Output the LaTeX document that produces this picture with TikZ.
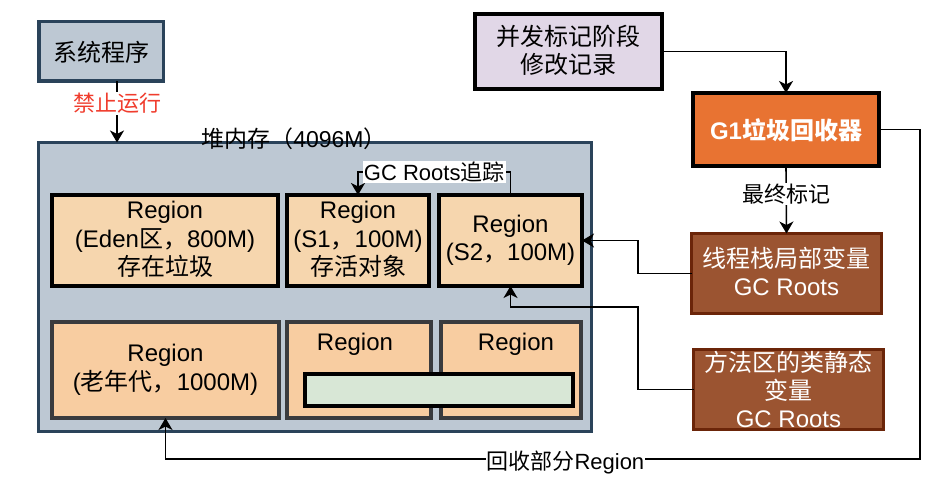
\documentclass[tikz,border=0pt]{standalone}
\usepackage{fontspec}
\setmainfont{Liberation Sans}
\newfontfamily\zhfont{Noto Sans CJK SC}
\newcommand{\zh}[1]{{\zhfont #1}}
\newcommand{\bxstrut}{\rule[-4pt]{0pt}{28.5pt}}
\usetikzlibrary{arrows.meta}
\definecolor{heapfill}{HTML}{BDC8D3}
\definecolor{heapdraw}{HTML}{2A435A}
\definecolor{regtop}{HTML}{F6D6AE}
\definecolor{regbot}{HTML}{F8CDA1}
\definecolor{regbotdraw}{HTML}{3A3B3E}
\definecolor{greenfill}{HTML}{D8E7D6}
\definecolor{purplefill}{HTML}{E1D7E7}
\definecolor{gonefill}{HTML}{E87332}
\definecolor{brownfill}{HTML}{9B5431}
\definecolor{browndraw}{HTML}{6B2509}
\definecolor{labelred}{HTML}{F03C2D}
\tikzset{
  boxbase/.style={rectangle, inner sep=0pt, outer sep=0pt, align=center,
    font=\fontsize{24}{28.5}\selectfont},
  strutted/.style={execute at begin node={\bxstrut}, execute at end node={\bxstrut}},
  sysbox/.style={boxbase, strutted, fill=heapfill, draw=heapdraw, line width=3.5pt},
  heapbox/.style={boxbase, fill=heapfill, draw=heapdraw, line width=3pt},
  regbox/.style={boxbase, strutted, fill=regtop, draw=black, line width=4pt},
  regboxb/.style={boxbase, strutted, fill=regbot, draw=regbotdraw, line width=4pt},
  greenbox/.style={boxbase, fill=greenfill, draw=black, line width=4pt},
  purplebox/.style={boxbase, strutted, fill=purplefill, draw=black, line width=4pt},
  gonebox/.style={boxbase, strutted, fill=gonefill, draw=black, line width=4pt, text=white, font=\fontsize{24}{28.5}\selectfont\bfseries},
  brownbox/.style={boxbase, fill=brownfill, draw=browndraw, line width=3pt, text=white},
  arr/.style={line width=1.6pt, -{Stealth[length=12pt,width=14pt,inset=3.5pt]}},
  lbl/.style={fill=white, inner sep=1pt, font=\fontsize{22}{26}\selectfont},
  plaintext/.style={inner sep=0pt, align=center, font=\fontsize{24}{28}\selectfont},
}
\begin{document}
\begin{tikzpicture}[x=1pt,y=-1pt]
\useasboundingbox (0,0) rectangle (942,484);

% left side
\node[sysbox, minimum width=124.5pt, minimum height=59.5pt] (sys) at (101,51.5) {\zh{系统程序}};
\node[heapbox, minimum width=553pt, minimum height=289pt] (heap) at (315,287) {};
\node[plaintext, font=\fontsize{23}{26}\selectfont] (heaplbl) at (294,139) {\zh{堆内存（}4096M\zh{）}};

\node[regbox, minimum width=226pt, minimum height=91pt] (eden) at (165,240.5) {Region\\(Eden\zh{区，}800M)\\\zh{存在垃圾}};
\node[regbox, minimum width=142pt, minimum height=91pt] (s1) at (358,240.5) {Region\\(S1\zh{，}100M)\\\zh{存活对象}};
\node[regbox, minimum width=143pt, minimum height=91pt] (s2) at (510.5,240.5) {Region\\(S2\zh{，}100M)};

\node[regboxb, minimum width=227pt, minimum height=96pt] (old) at (165.5,370) {Region\\(\zh{老年代，}1000M)};
\node[regboxb, minimum width=144pt, minimum height=96pt] (r2) at (359,370) {};
\node[regboxb, minimum width=140pt, minimum height=96pt] (r3) at (511,370) {};
\node[plaintext] (r2lbl) at (355,344) {Region};
\node[plaintext] (r3lbl) at (516,344) {Region};
\node[greenbox, minimum width=268pt, minimum height=32pt] (green) at (439,390) {};

% right side
\node[purplebox, minimum width=187pt, minimum height=75pt] (conc) at (568.5,51.5) {\zh{并发标记阶段}\\\zh{修改记录}};
\node[gonebox, minimum width=186pt, minimum height=73pt] (g1) at (786,129.5) {G1\zh{垃圾回收器}};
\node[brownbox, strutted, minimum width=190pt, minimum height=80pt] (stack) at (786.5,273.5) {\zh{线程栈局部变量}\\GC Roots};
\node[brownbox, font=\fontsize{24}{28}\selectfont, minimum width=190pt, minimum height=80pt] (method) at (788.5,389.5) {\zh{方法区的类静态}\\\zh{变量}\\GC Roots};

\coordinate (j1) at (638,307);
\coordinate (c1) at (920,459);

% connectors
\draw[arr] ([xshift=16pt]sys.south) -- node[lbl, pos=0.33, yshift=-2pt, text=labelred] {\zh{禁止运行}} ([xshift=16pt]sys.south |- heap.north);
\draw[arr] (s2.north) -- ++(0,-23) -| node[lbl, pos=0.25] {GC Roots\zh{追踪}} (s1.north);
\draw[arr] (conc.east) -| (g1.north);
\draw[arr] (g1.south) -- node[lbl, pos=0.38, yshift=-2pt] {\zh{最终标记}} (stack.north);
\draw[arr] (stack.west) -- (stack.west -| j1) |- (s2.east);
\draw[arr] (method.west) -| (j1) -| (s2.south);
\draw[arr] (g1.east) -| (c1) -| node[lbl, pos=0.235, yshift=-3pt] {\zh{回收部分}Region} (old.south);
\end{tikzpicture}
\end{document}
